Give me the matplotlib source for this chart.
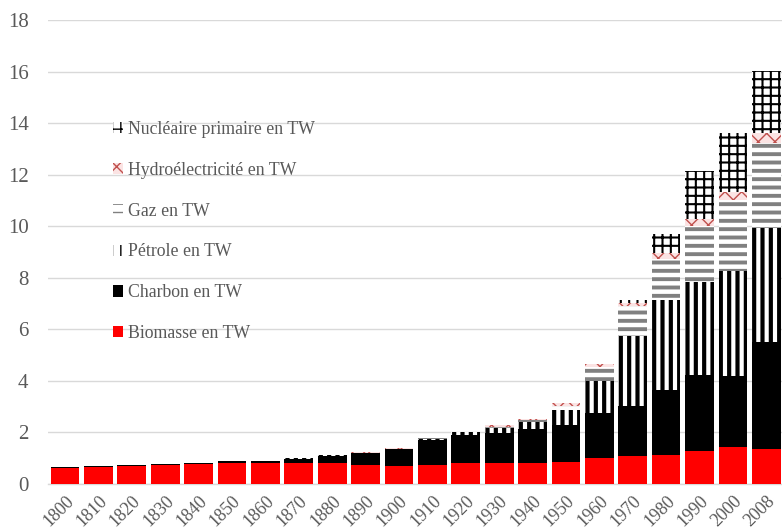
import matplotlib
matplotlib.use("Agg")
import matplotlib as mpl
import matplotlib.pyplot as plt
import numpy as np

years = ["1800", "1810", "1820", "1830", "1840", "1850", "1860", "1870", "1880", "1890",
         "1900", "1910", "1920", "1930", "1940", "1950", "1960", "1970", "1980", "1990",
         "2000", "2008"]
biomasse = [0.64, 0.67, 0.69, 0.72, 0.79, 0.82, 0.80, 0.80, 0.80, 0.75,
            0.70, 0.73, 0.80, 0.83, 0.83, 0.86, 1.02, 1.08, 1.13, 1.28, 1.42, 1.34]
charbon = [0.01, 0.01, 0.03, 0.04, 0.03, 0.06, 0.11, 0.18, 0.29, 0.45,
           0.64, 0.96, 1.12, 1.13, 1.30, 1.43, 1.74, 1.96, 2.53, 2.94, 2.76, 4.16]
petrole = [0.0, 0.0, 0.0, 0.0, 0.0, 0.0, 0.0, 0.02, 0.02, 0.02,
           0.03, 0.07, 0.08, 0.22, 0.28, 0.60, 1.24, 2.70, 3.48, 3.61, 4.10, 4.45]
gaz = [0.0, 0.0, 0.0, 0.0, 0.0, 0.0, 0.0, 0.0, 0.0, 0.0,
       0.0, 0.02, 0.02, 0.05, 0.08, 0.15, 0.54, 1.15, 1.59, 2.19, 2.73, 3.29]
hydro = [0.0, 0.0, 0.0, 0.0, 0.0, 0.0, 0.0, 0.0, 0.01, 0.01,
         0.01, 0.01, 0.01, 0.04, 0.05, 0.12, 0.10, 0.14, 0.22, 0.28, 0.30, 0.39]
nucleaire = [0.0, 0.0, 0.0, 0.0, 0.0, 0.0, 0.0, 0.0, 0.0, 0.0,
             0.0, 0.0, 0.0, 0.0, 0.0, 0.0, 0.0, 0.09, 0.75, 1.85, 2.32, 2.41]

series = [
    ("Biomasse en TW", biomasse, dict(facecolor="#ff0000", edgecolor="#ff0000", hatch=None), 1.0),
    ("Charbon en TW", charbon, dict(facecolor="#000000", edgecolor="#000000", hatch=None), 1.0),
    ("Pétrole en TW", petrole, dict(facecolor="white", edgecolor="black", hatch="||"), 3.0),
    ("Gaz en TW", gaz, dict(facecolor="white", edgecolor="#808080", hatch="--"), 2.8),
    ("Hydroélectricité en TW", hydro, dict(facecolor="#fbe3e3", edgecolor="#c0504d", hatch="xx"), 1.0),
    ("Nucléaire primaire en TW", nucleaire, dict(facecolor="white", edgecolor="black", hatch="++"), 1.5),
]

text_color = "#595959"
plt.rcParams["font.family"] = ["Liberation Serif", "DejaVu Serif"]

fig = plt.figure(figsize=(7.82, 5.31), dpi=100)
ax = fig.add_axes([0.0614, 0.0885, 0.9386, 0.8738])

x = np.arange(len(years))
bottom = np.zeros(len(years))
handles = []
for label, vals, style, hlw in series:
    vals = np.array(vals)
    with mpl.rc_context({"hatch.linewidth": hlw}):
        bars = ax.bar(x, vals, width=0.86, bottom=bottom, linewidth=0, label=label,
                      zorder=3, **style)
        for p in bars:
            if hasattr(p, "set_hatch_linewidth"):
                p.set_hatch_linewidth(hlw)
    handles.append(bars)
    bottom = bottom + vals

ax.set_xlim(-0.51, 21.47)
ax.set_ylim(0, 18)
ax.set_yticks(np.arange(0, 19, 2))
ax.yaxis.grid(True, color="#d9d9d9", linewidth=1.0, zorder=0)
ax.set_axisbelow(True)
for s in ["left", "right", "top"]:
    ax.spines[s].set_visible(False)
ax.spines["bottom"].set_color("#d9d9d9")
ax.spines["bottom"].set_linewidth(1.0)
ax.tick_params(axis="y", length=0, pad=14, labelsize=15, labelcolor=text_color)
ax.tick_params(axis="x", length=0, pad=6, labelsize=13, labelcolor=text_color)
ax.set_xticks(x)
ax.set_xticklabels(years, rotation=45, ha="right", va="top", rotation_mode="anchor")

leg = fig.legend(handles[::-1], [s[0] for s in series][::-1], loc="center left",
                 bbox_to_anchor=(0.1445, 0.564), frameon=False, fontsize=12.8,
                 labelspacing=1.34, handlelength=0.55, handleheight=0.6,
                 handletextpad=0.3, borderpad=0, borderaxespad=0)
for t in leg.get_texts():
    t.set_color(text_color)

fig.savefig("out.png", dpi=100)
